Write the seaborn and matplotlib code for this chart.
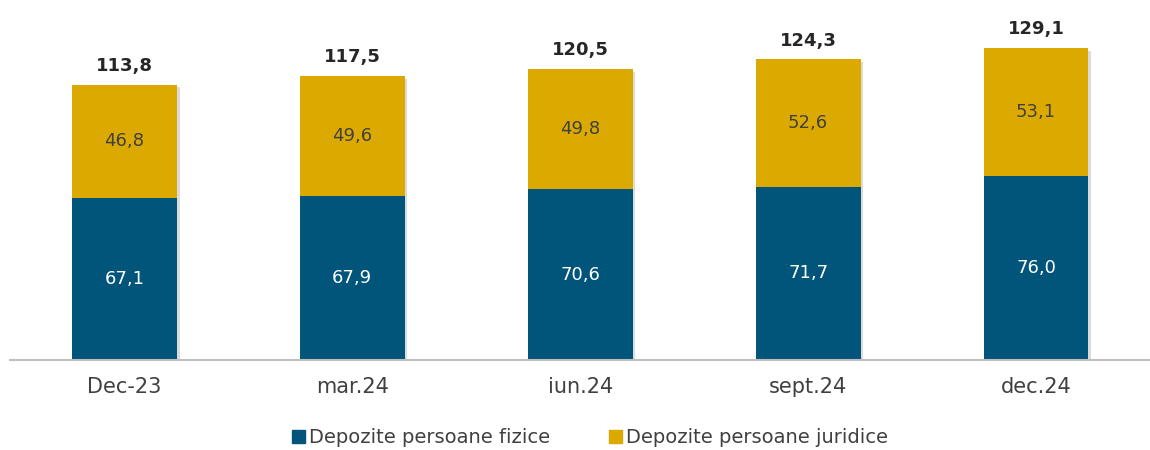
import numpy as np
import pandas as pd
import matplotlib
matplotlib.use("Agg")
import matplotlib.pyplot as plt
import matplotlib.patheffects as pe
from matplotlib.patches import Patch
import seaborn as sns

periods = ['Dec-23', 'mar.24', 'iun.24', 'sept.24', 'dec.24']
fizice = [67.1, 67.9, 70.6, 71.7, 76.0]
juridice = [46.8, 49.6, 49.8, 52.6, 53.1]
totals = [113.8, 117.5, 120.5, 124.3, 129.1]

blue = '#02557A'
gold = '#DCA900'
grey = '#404040'

sns.set_theme(style='white')
plt.rcParams['font.family'] = ['DejaVu Sans']

df = pd.DataFrame({'period': periods, 'fizice': fizice, 'juridice': juridice})

fig = plt.figure(figsize=(11.5, 4.5), dpi=100)
ax = fig.add_axes([0.009, 0.2, 0.991, 0.778])

shadow = [pe.SimplePatchShadow(offset=(2, -2), shadow_rgbFace='#888888', alpha=0.3), pe.Normal()]

sns.barplot(data=df, x='period', y='fizice', color=blue, width=0.46,
            saturation=1, ax=ax, linewidth=0)
n = len(ax.patches)
sns.barplot(data=df, x='period', y='juridice', color=gold, width=0.46,
            saturation=1, ax=ax, linewidth=0, bottom=df['fizice'])
for k, p in enumerate(ax.patches):
    p.set_path_effects(shadow)
    p.set_zorder(3 if k < n else 2)

for i in range(len(periods)):
    ax.text(i, fizice[i] / 2, f'{fizice[i]:.1f}'.replace('.', ','), ha='center', va='center',
            color='white', fontsize=13, zorder=5)
    ax.text(i, fizice[i] + juridice[i] / 2, f'{juridice[i]:.1f}'.replace('.', ','),
            ha='center', va='center', color=grey, fontsize=13, zorder=5)
    ax.text(i, totals[i] + 4, f'{totals[i]:.1f}'.replace('.', ','), ha='center', va='bottom',
            color='#262626', fontsize=13, fontweight='bold')

ax.set_ylim(0, 144.8)
ax.set_xlim(-0.5, 4.5)
ax.set_xlabel('')
ax.set_ylabel('')
ax.set_yticks([])
ax.tick_params(axis='x', length=0, pad=12, labelsize=15, labelcolor=grey)
for s in ['top', 'right', 'left']:
    ax.spines[s].set_visible(False)
ax.spines['bottom'].set_color('#BFBFBF')
ax.spines['bottom'].set_linewidth(1.5)
ax.spines['bottom'].set_zorder(4)

handles = [Patch(color=blue, label='Depozite persoane fizice'),
           Patch(color=gold, label='Depozite persoane juridice')]
fig.legend(handles=handles, loc='center', bbox_to_anchor=(0.513, 0.027), ncol=2,
           frameon=False, fontsize=14, labelcolor=grey, handlelength=0.7,
           handleheight=0.7, handletextpad=0.2, columnspacing=3)

fig.savefig('out.png', dpi=100)
